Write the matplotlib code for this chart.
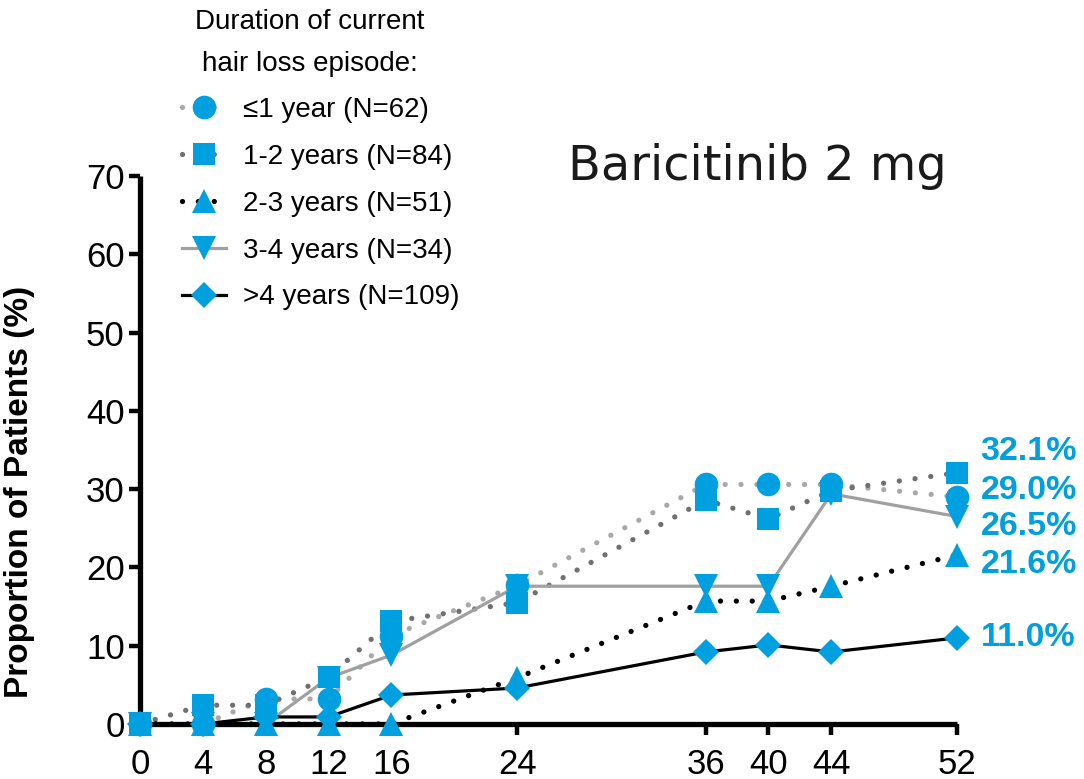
import matplotlib
matplotlib.use("Agg")
import matplotlib.pyplot as plt
from matplotlib.lines import Line2D

plt.rcParams['font.family'] = ['Liberation Sans', 'DejaVu Sans']

weeks = [0, 4, 8, 12, 16, 24, 36, 40, 44, 52]
series_names = ["≤1 year (N=62)", "1-2 years (N=84)", "2-3 years (N=51)",
                "3-4 years (N=34)", ">4 years (N=109)"]
le1 = [0, 0, 3.2, 3.2, 11.3, 17.7, 30.6, 30.6, 30.6, 29.0]
y1_2 = [0, 2.4, 2.4, 6.0, 13.1, 15.5, 28.6, 26.2, 29.8, 32.1]
y2_3 = [0, 0, 0, 0, 0, 5.9, 15.7, 15.7, 17.6, 21.6]
y3_4 = [0, 0, 0, 5.9, 8.8, 17.6, 17.6, 17.6, 29.4, 26.5]
gt4 = [0, 0, 0.9, 0.9, 3.7, 4.6, 9.2, 10.1, 9.2, 11.0]
end_labels = ["29.0%", "32.1%", "21.6%", "26.5%", "11.0%"]
yticks = [0, 10, 20, 30, 40, 50, 60, 70]

BLUE = "#009FDF"
DOT = (0, (0.01, 3.0))
styles = [
    dict(color="#a9a9a9", ls=DOT, lw=3.8, marker="o", ms=17),
    dict(color="#707070", ls=DOT, lw=3.8, marker="s", ms=16),
    dict(color="#000000", ls=DOT, lw=3.8, marker="^", ms=17),
    dict(color="#a0a0a0", ls="-", lw=2.3, marker="v", ms=17),
    dict(color="#000000", ls="-", lw=2.3, marker="D", ms=13),
]
data = [le1, y1_2, y2_3, y3_4, gt4]
# label offsets in pixels (dy) to avoid overlaps
label_dy = [6, 21, -10, -10, 0]

fig = plt.figure(figsize=(10.84, 7.79), dpi=100)
ax = fig.add_axes([140/1084, 1-724/779, 817/1084, 548/779])

for d, st in zip(data, styles):
    ax.plot(weeks, d, color=st["color"], ls=st["ls"], lw=st["lw"],
            dash_capstyle="round", solid_capstyle="butt", zorder=2, clip_on=False)

for idx in [4, 2, 3, 0, 1]:
    st = styles[idx]
    ax.plot(weeks, data[idx], ls="none", marker=st["marker"], ms=st["ms"],
            mfc=BLUE, mec=BLUE, mew=0, zorder=3, clip_on=False)

for d, lab, dy in zip(data, end_labels, label_dy):
    ax.annotate(lab, xy=(weeks[-1], d[-1]), xytext=(17, dy*0.72),
                textcoords="offset points", ha="left", va="center",
                fontsize=24.5, fontweight="bold", color=BLUE, annotation_clip=False)

ax.set_xlim(0, 52)
ax.set_ylim(0, 70)
ax.set_xticks(weeks)
ax.set_yticks(yticks)
for s in ["top", "right"]:
    ax.spines[s].set_visible(False)
for s in ["left", "bottom"]:
    ax.spines[s].set_linewidth(3.8)
    ax.spines[s].set_capstyle("butt")
ax.tick_params(axis="both", direction="out", length=8, width=3.2,
               labelsize=25, pad=3)
ax.tick_params(axis="x", pad=9)
ax.set_ylabel("Proportion of Patients (%)", fontsize=24, fontweight="bold")
ax.yaxis.set_label_coords(-0.128, 0.423)

handles = []
for st in styles:
    handles.append(Line2D([], [], color=st["color"], ls=st["ls"], lw=st["lw"],
                          dash_capstyle="round", marker=st["marker"],
                          ms=st["ms"], mfc=BLUE, mec=BLUE, mew=0))
fig.text(310/1084, 1-43/779, "Duration of current\nhair loss episode:",
         ha="center", va="center", fontsize=20, linespacing=1.78)
fig.legend(handles, series_names, loc="upper left",
           bbox_to_anchor=(182/1084, 1-97/779), frameon=False, fontsize=20,
           handlelength=1.6, handletextpad=0.6, labelspacing=0.75,
           borderpad=0, borderaxespad=0)

fig.text(568/1084, 1-167/779, "Baricitinib 2 mg", ha="left", va="center",
         fontsize=34.5, family="DejaVu Sans", color="#1a1a1a")

fig.savefig("out.png", dpi=100)
